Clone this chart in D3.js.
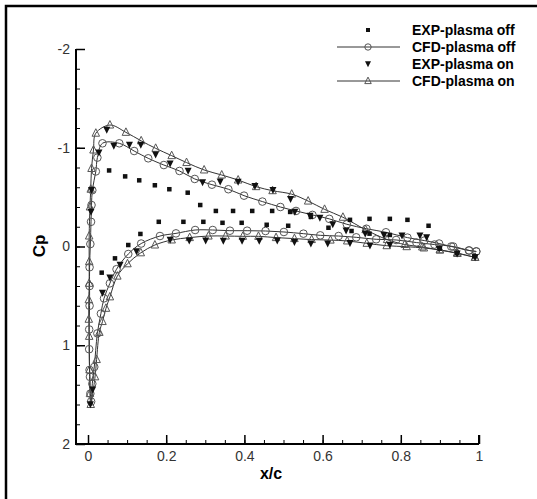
<!DOCTYPE html>
<html>
<head>
<meta charset="utf-8">
<script src="https://cdn.jsdelivr.net/npm/d3@7"></script>
<style>
  body { margin: 0; background: #fff; }
  svg { display: block; }
  .tick text { font-family: "Liberation Sans", Arial, sans-serif; font-size: 14px; fill: #333; }
</style>
</head>
<body>
<div id="chart"></div>
<script>
// x/c, Cp pairs

var expOff = [
    [0.054, -0.77], [0.095, -0.71], [0.131, -0.67], [0.171, -0.62], [0.208, -0.58], [0.255, -0.545],
    [0.287, -0.42], [0.327, -0.36], [0.371, -0.36], [0.42, -0.36], [0.471, -0.36], [0.517, -0.35],
    [0.570, -0.30], [0.67, -0.27], [0.72, -0.28], [0.772, -0.28], [0.817, -0.27], [0.871, -0.21],
    [0.035, 0.265], [0.069, 0.12], [0.103, -0.015], [0.134, -0.127], [0.181, -0.25], [0.244, -0.25],
    [0.295, -0.25], [0.344, -0.24], [0.393, -0.24], [0.457, -0.22], [0.512, -0.21], [0.615, -0.19],
    [0.674, -0.157], [0.72, -0.13], [0.772, -0.117], [0.90, 0.02], [0.944, 0.066], [0.988, 0.10]
];

// CFD plasma off, trailing edge upper -> leading edge -> trailing edge lower
var cfdOff = [
    [0.993, 0.05], [0.974, 0.04], [0.929, 0.0], [0.898, -0.03], [0.86, -0.06], [0.817, -0.09],
    [0.762, -0.144], [0.712, -0.18], [0.662, -0.225], [0.617, -0.28], [0.574, -0.32], [0.532, -0.36],
    [0.492, -0.40], [0.446, -0.455], [0.399, -0.515], [0.359, -0.58], [0.317, -0.626], [0.273, -0.684],
    [0.234, -0.765], [0.194, -0.825], [0.154, -0.893], [0.118, -0.967], [0.08, -1.045], [0.037, -1.045],
    [0.024, -0.90], [0.02, -0.76], [0.011, -0.57], [0.009, -0.42], [0.0077, -0.25], [0.006, -0.025],
    [0.004, 0.21], [0.004, 0.40], [0.004, 0.60], [0.003, 0.84], [0.003, 1.04], [0.004, 1.25],
    [0.005, 1.32], [0.006, 1.49], [0.008, 1.57],
    [0.011, 1.39], [0.016, 1.22], [0.024, 0.88], [0.033, 0.68], [0.041, 0.525], [0.056, 0.373],
    [0.073, 0.23], [0.103, 0.076], [0.136, -0.03], [0.184, -0.106], [0.225, -0.133], [0.274, -0.167],
    [0.319, -0.167], [0.363, -0.16], [0.407, -0.16], [0.454, -0.157], [0.501, -0.147], [0.551, -0.13],
    [0.594, -0.113], [0.641, -0.106], [0.686, -0.093], [0.737, -0.073], [0.788, -0.066], [0.84, -0.04],
    [0.886, -0.02], [0.934, 0.0], [0.975, 0.04], [0.993, 0.05]
];

var expOn = [
    [0.009, -0.57], [0.0077, -0.35], [0.028, -0.95], [0.048, -1.18], [0.066, -1.02], [0.106, -1.03],
    [0.135, -1.03], [0.173, -0.93], [0.21, -0.84], [0.256, -0.765], [0.293, -0.65], [0.338, -0.656],
    [0.384, -0.653], [0.427, -0.61], [0.473, -0.57], [0.518, -0.48], [0.529, -0.35], [0.568, -0.31],
    [0.593, -0.29], [0.626, -0.225], [0.66, -0.16], [0.709, -0.13], [0.757, -0.116], [0.803, -0.11],
    [0.849, -0.11], [0.866, -0.093],
    [0.006, 1.6], [0.012, 1.45], [0.037, 0.47], [0.056, 0.316], [0.082, 0.187], [0.124, 0.05],
    [0.21, -0.066], [0.259, -0.06], [0.301, -0.06], [0.346, -0.056], [0.394, -0.056], [0.438, -0.056],
    [0.484, -0.059], [0.528, -0.043], [0.57, -0.03], [0.613, -0.03], [0.67, -0.033], [0.721, -0.008],
    [0.772, -0.015], [0.898, 0.025], [0.944, 0.073], [0.99, 0.11]
];

var cfdOn = [
    [0.99, 0.11], [0.945, 0.07], [0.9, 0.035], [0.855, 0.005], [0.81, -0.02], [0.765, -0.07],
    [0.71, -0.17], [0.652, -0.296], [0.605, -0.376], [0.563, -0.46], [0.521, -0.53], [0.472, -0.565],
    [0.43, -0.606], [0.384, -0.673], [0.342, -0.724], [0.297, -0.775], [0.252, -0.85], [0.214, -0.92],
    [0.173, -0.994], [0.136, -1.07], [0.097, -1.156], [0.056, -1.23], [0.02, -1.147], [0.014, -0.977],
    [0.009, -0.79], [0.007, -0.58], [0.005, -0.40], [0.003, -0.106], [0.003, 0.154], [0.003, 0.373],
    [0.002, 0.54], [0.002, 0.737], [0.003, 0.91], [0.004, 1.25], [0.005, 1.49], [0.007, 1.6],
    [0.018, 1.32], [0.022, 1.145], [0.029, 0.87], [0.037, 0.76], [0.046, 0.626], [0.056, 0.51],
    [0.075, 0.30], [0.101, 0.175], [0.135, 0.064], [0.171, -0.015], [0.214, -0.066], [0.26, -0.09],
    [0.308, -0.106], [0.352, -0.106], [0.396, -0.103], [0.436, -0.103], [0.481, -0.09], [0.528, -0.08],
    [0.572, -0.07], [0.62, -0.065], [0.663, -0.056], [0.713, -0.032], [0.764, -0.008], [0.815, 0.002],
    [0.859, 0.015], [0.9, 0.035], [0.944, 0.066], [0.99, 0.11]
];

var xTicks = [0, 0.2, 0.4, 0.6, 0.8, 1];
var yTicks = [-2, -1, 0, 1, 2];
var legendLabels = ["EXP-plasma off", "CFD-plasma off", "EXP-plasma on", "CFD-plasma on"];

var width = 537, height = 499;

var svg = d3.select("#chart").append("svg")
    .attr("width", width)
    .attr("height", height);

// frame
svg.append("path")
    .attr("d", "M6," + height + "V6H" + width)
    .attr("fill", "none")
    .attr("stroke", "#000")
    .attr("stroke-width", 2.5);

var xScale = d3.scaleLinear().domain([-0.0307, 1]).range([76, 479]);
var yScale = d3.scaleLinear().domain([-2, 2]).range([49, 444]);

// axes
var xMinor = d3.range(0, 1.0001, 0.05);
var yMinor = d3.range(-2, 2.0001, 0.2);

svg.append("g")
    .attr("transform", "translate(0,444)")
    .call(d3.axisBottom(xScale).tickValues(xMinor).tickSize(-4).tickFormat(""))
    .call(function(g) { g.select(".domain").remove(); g.selectAll("line").attr("stroke", "#000"); });

svg.append("g")
    .attr("transform", "translate(0,444)")
    .call(d3.axisBottom(xScale).tickValues(xTicks).tickSize(-9).tickPadding(7)
        .tickFormat(function(d) { return String(d); }))
    .call(function(g) {
        g.select(".domain").remove();
        g.selectAll("line").attr("stroke", "#000").attr("stroke-width", 1.5);
    });

svg.append("g")
    .attr("transform", "translate(76,0)")
    .call(d3.axisLeft(yScale).tickValues(yMinor).tickSize(-4).tickFormat(""))
    .call(function(g) { g.select(".domain").remove(); g.selectAll("line").attr("stroke", "#000"); });

svg.append("g")
    .attr("transform", "translate(76,0)")
    .call(d3.axisLeft(yScale).tickValues(yTicks).tickSize(-9).tickPadding(6)
        .tickFormat(function(d) { return String(d); }))
    .call(function(g) {
        g.select(".domain").remove();
        g.selectAll("line").attr("stroke", "#000").attr("stroke-width", 1.5);
    });

// axis lines
svg.append("path")
    .attr("d", "M76,49V444H479")
    .attr("fill", "none")
    .attr("stroke", "#000")
    .attr("stroke-width", 2);
svg.append("line")
    .attr("x1", 479).attr("x2", 479).attr("y1", 435).attr("y2", 444)
    .attr("stroke", "#000").attr("stroke-width", 2);

// axis titles
svg.append("text")
    .attr("x", 271).attr("y", 479)
    .attr("text-anchor", "middle")
    .style("font-family", "Liberation Sans, Arial, sans-serif")
    .style("font-weight", "bold")
    .style("font-size", "16px")
    .text("x/c");

svg.append("text")
    .attr("transform", "translate(45,246) rotate(-90)")
    .attr("text-anchor", "middle")
    .style("font-family", "Liberation Sans, Arial, sans-serif")
    .style("font-weight", "bold")
    .style("font-size", "17px")
    .text("Cp");

// symbols
function square(g, s) {
    g.append("rect").attr("x", -s / 2).attr("y", -s / 2).attr("width", s).attr("height", s)
        .attr("fill", "#111");
}
function circle(g, r) {
    g.append("circle").attr("r", r).attr("fill", "none").attr("stroke", "#555").attr("stroke-width", 1);
}
function triUp(g, s) {
    g.append("path").attr("d", "M0," + (-s * 0.6) + "L" + (s / 2) + "," + (s * 0.4) + "L" + (-s / 2) + "," + (s * 0.4) + "Z")
        .attr("fill", "none").attr("stroke", "#555").attr("stroke-width", 1);
}
function triDown(g, s) {
    g.append("path").attr("d", "M0," + (s * 0.55) + "L" + (s / 2) + "," + (-s * 0.45) + "L" + (-s / 2) + "," + (-s * 0.45) + "Z")
        .attr("fill", "#111");
}

var line = d3.line()
    .x(function(d) { return xScale(d[0]); })
    .y(function(d) { return yScale(d[1]); })
    .curve(d3.curveCatmullRom.alpha(0.5));

var plot = svg.append("g");

plot.append("path").datum(cfdOff).attr("d", line)
    .attr("fill", "none").attr("stroke", "#333").attr("stroke-width", 1);
plot.append("path").datum(cfdOn).attr("d", line)
    .attr("fill", "none").attr("stroke", "#333").attr("stroke-width", 1);

function markers(data, draw, size) {
    plot.append("g").selectAll("g").data(data).enter().append("g")
        .attr("transform", function(d) { return "translate(" + xScale(d[0]) + "," + yScale(d[1]) + ")"; })
        .each(function() { draw(d3.select(this), size); });
}

markers(cfdOff, circle, 3.8);
markers(cfdOn, triUp, 7.5);
markers(expOff, square, 4.5);
markers(expOn, triDown, 7);

// legend
var legend = svg.append("g");
var rowY = [30, 47, 64, 81];
legendLabels.forEach(function(label, i) {
    var row = legend.append("g").attr("transform", "translate(0," + rowY[i] + ")");
    if (i === 1 || i === 3) {
        row.append("line").attr("x1", 337).attr("x2", 400).attr("y1", 0).attr("y2", 0)
            .attr("stroke", "#333").attr("stroke-width", 1);
    }
    var sym = row.append("g").attr("transform", "translate(368,0)");
    if (i === 0) square(sym, 4);
    if (i === 1) circle(sym, 3.2);
    if (i === 2) triDown(sym, 6);
    if (i === 3) triUp(sym, 6.5);
    row.append("text")
        .attr("x", 412).attr("y", 0).attr("dy", "0.36em")
        .style("font-family", "Liberation Sans, Arial, sans-serif")
        .style("font-weight", "bold")
        .style("font-size", "14px")
        .text(label);
});
</script>
</body>
</html>
